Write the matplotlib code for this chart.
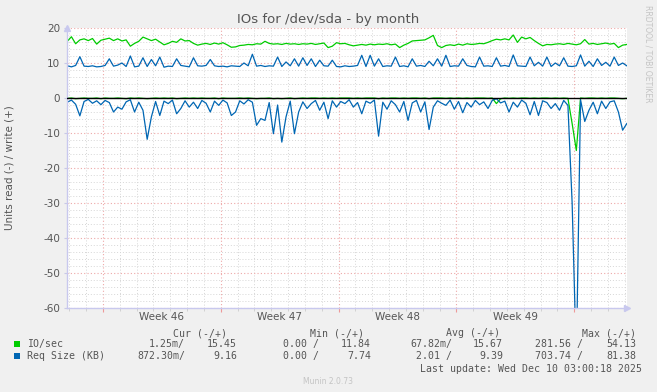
import numpy as np
import matplotlib
matplotlib.use('Agg')
import matplotlib.pyplot as plt
from matplotlib.patches import Rectangle
from matplotlib.ticker import MultipleLocator
import matplotlib.transforms as mtransforms

# samples every 6h, day 0 = Mon Nov 10 2025 (start of week 46)
start_day = -2.125
step_day = 0.25

# IO/sec, write (+)
io_write = [
    16.2, 17.5, 15.5, 16.6, 16.9, 16.4, 17.0, 15.4,
    16.5, 16.8, 17.1, 16.4, 16.9, 16.3, 16.6, 14.8,
    15.6, 16.2, 17.4, 16.9, 16.4, 16.8, 16.0, 15.2,
    15.6, 16.2, 15.9, 16.9, 16.3, 16.4, 15.6, 15.1,
    15.4, 15.6, 15.3, 15.7, 15.4, 15.8, 15.2, 14.5,
    14.6, 15.0, 15.1, 15.3, 15.2, 15.5, 15.4, 16.2,
    15.6, 15.4, 15.5, 15.3, 15.6, 15.4, 15.5, 15.3,
    15.5, 15.4, 15.6, 15.3, 15.5, 15.7, 14.4, 14.8,
    15.8, 15.5, 15.6, 15.2, 14.9, 15.1, 15.3, 15.1,
    15.4, 15.2, 15.4, 15.3, 15.5, 15.2, 15.4, 14.4,
    15.1, 15.6, 16.3, 16.4, 16.5, 16.6, 17.2, 17.9,
    15.0, 14.4, 15.0, 15.2, 15.0, 15.4, 15.1, 15.5,
    15.3, 15.4, 15.6, 15.5, 15.9, 16.4, 16.8, 16.6,
    16.9, 16.6, 18.0, 15.9, 17.4, 16.9, 17.3, 16.4,
    15.6, 14.9, 15.3, 15.2, 15.4, 15.5, 15.3, 15.6,
    15.4, 15.2, 15.5, 16.7, 15.4, 15.6, 15.3, 15.5,
    15.7, 15.4, 15.6, 14.4, 15.1, 15.3,
]

# IO/sec, read (-)
io_read = [
    0.1, 0.0, 0.2, 0.1, 0.0, 0.1, 0.1, 0.0,
    0.2, 0.0, 0.1, 0.1, 0.0, 0.1, 0.2, 0.0,
    0.1, 0.0, 0.1, 0.2, 0.1, 0.0, 0.1, 0.0,
    0.1, 0.0, 0.2, 0.1, 0.0, 0.1, 0.0, 0.1,
    0.0, 0.1, 0.1, 0.0, 0.2, 0.0, 0.1, 0.1,
    0.1, 0.0, 0.1, 0.0, 0.1, 0.2, 0.1, 0.1,
    0.0, 0.2, 0.1, 0.2, 0.1, 0.0, 0.2, 0.1,
    0.0, 0.1, 0.0, 0.0, 0.1, 0.0, 0.1, 0.0,
    0.1, 0.0, 0.0, 0.0, 0.1, 0.0, 0.1, 0.0,
    0.0, 0.0, 0.2, 0.0, 0.1, 0.0, 0.0, 0.1,
    0.0, 0.1, 0.0, 0.0, 0.1, 0.0, 0.2, 0.0,
    0.0, 0.0, 0.1, 0.0, 0.1, 0.0, 0.1, 0.0,
    0.1, 0.0, 0.0, 0.0, 0.1, 0.0, 1.6, 0.2,
    0.0, 0.1, 0.0, 0.1, 0.0, 0.0, 0.1, 0.0,
    0.1, 0.0, 0.0, 0.1, 0.0, 0.1, 0.0, 0.1,
    7.3, 15.0, 0.0, 0.1, 0.0, 0.0, 0.1, 0.0,
    0.1, 0.0, 0.0, 0.1, 0.2, 0.1,
]

# Req Size (KB), write (+)
req_write = [
    9.2, 8.9, 9.3, 11.8, 9.1, 9.0, 9.2, 8.9,
    9.0, 9.3, 11.2, 9.1, 9.4, 10.0, 9.0, 12.0,
    8.9, 9.1, 11.5, 9.0, 11.0, 9.2, 11.7, 8.8,
    9.1, 9.0, 11.2, 9.3, 9.1, 8.9, 11.5, 9.2,
    9.1, 9.3, 11.0, 9.2, 9.0, 9.1, 8.9, 9.2,
    9.1, 9.0, 10.0, 9.2, 12.5, 9.1, 9.3, 9.0,
    9.2, 9.1, 11.7, 9.0, 10.3, 9.2, 11.2, 9.1,
    11.5, 9.3, 11.2, 9.0, 10.8, 9.2, 9.1, 10.8,
    9.0, 8.9, 9.2, 9.0, 9.1, 9.3, 12.2, 9.0,
    12.2, 9.1, 11.2, 9.0, 9.2, 9.1, 11.7, 9.0,
    9.2, 8.9, 11.2, 9.1, 9.3, 9.0, 10.5, 9.2,
    11.2, 9.1, 12.2, 9.0, 9.2, 9.1, 11.2, 9.3,
    9.0, 8.9, 11.7, 9.1, 9.2, 9.0, 11.5, 9.1,
    9.3, 9.0, 12.3, 9.2, 9.1, 9.0, 11.7, 9.2,
    10.2, 9.1, 11.7, 9.0, 10.0, 9.2, 11.5, 9.1,
    9.0, 9.2, 12.3, 9.1, 10.5, 9.0, 11.2, 9.3,
    10.2, 9.1, 11.7, 9.3, 10.0, 9.2,
]

# Req Size (KB), read (-)
req_read = [
    1.2, 0.6, 1.8, 5.1, 1.0, 0.4, 1.5, 0.8,
    1.9, 0.7, 1.3, 4.0, 2.6, 3.2, 1.1, 0.5,
    4.0, 1.2, 3.5, 11.8, 5.4, 1.0, 5.0, 0.9,
    1.6, 0.6, 4.5, 3.0, 0.8, 2.6, 1.2, 3.0,
    0.7, 1.5, 4.0, 0.9, 2.1, 0.6, 1.4, 5.0,
    4.0, 0.8, 1.7, 0.5, 1.2, 7.8, 5.9, 6.4,
    1.3, 10.2, 2.0, 12.6, 5.4, 0.9, 10.2, 4.0,
    1.1, 3.0, 1.6, 0.7, 3.5, 1.2, 5.9, 0.8,
    2.6, 1.0, 1.6, 0.5, 2.6, 1.3, 4.5, 0.9,
    1.5, 0.6, 10.9, 1.2, 3.2, 0.8, 1.9, 4.0,
    1.0, 6.4, 1.4, 0.7, 4.0, 1.1, 9.0, 2.6,
    0.8, 1.5, 2.1, 0.6, 3.2, 1.0, 4.2, 1.3,
    2.6, 0.7, 1.9, 1.1, 3.0, 0.7, 0.2, 1.4,
    0.9, 4.0, 1.2, 2.6, 0.6, 1.5, 4.8, 1.0,
    5.0, 0.8, 1.3, 3.0, 1.6, 3.5, 0.7, 2.1,
    30.0, 75.0, 0.5, 6.7, 3.5, 1.2, 4.5, 0.9,
    3.0, 1.1, 0.8, 4.0, 9.2, 7.3,
]

week_labels = ['Week 46', 'Week 47', 'Week 48', 'Week 49']
week_starts = [0, 7, 14, 21, 28]

legend_names = ['IO/sec', 'Req Size (KB)']
legend_colors = ['#00cc00', '#0066b3']
headers = ['Cur (-/+)', 'Min (-/+)', 'Avg (-/+)', 'Max (-/+)']
io_stats = ['1.25m/', '15.45', '0.00 /', '11.84', '67.82m/', '15.67', '281.56 /', '54.13']
req_stats = ['872.30m/', '9.16', '0.00 /', '7.74', '2.01 /', '9.39', '703.74 /', '81.38']

W, H = 657, 392
plt.rcParams['axes.unicode_minus'] = False
plt.rcParams['font.family'] = 'DejaVu Sans'

days = start_day + step_day * np.arange(len(io_write))

fig = plt.figure(figsize=(W / 100, H / 100), dpi=100, facecolor='#f0f0f0')
ax = fig.add_axes([67 / W, 1 - 308 / H, (627 - 67) / W, 280 / H])
ax.set_facecolor('white')

ax.plot(days, io_write, color=legend_colors[0], lw=0.9)
ax.plot(days, -np.array(io_read), color=legend_colors[0], lw=0.9)
ax.plot(days, req_write, color=legend_colors[1], lw=0.9)
ax.plot(days, -np.array(req_read), color=legend_colors[1], lw=0.9)
ax.axhline(0, color='black', lw=1.0, zorder=5)

ax.set_xlim(-2.139, 31.135)
ax.set_ylim(-60, 20)

ax.set_xticks(week_starts)
ax.xaxis.set_minor_locator(MultipleLocator(1))
ax.yaxis.set_major_locator(MultipleLocator(10))
ax.yaxis.set_minor_locator(MultipleLocator(2))
ax.grid(which='minor', color='#d6d6d6', linestyle=(0, (1, 2)), lw=0.7)
ax.grid(which='major', color='#eea8a8', linestyle=(0, (1, 2)), lw=0.8)
ax.set_axisbelow(True)

ax.tick_params(axis='x', which='both', labelbottom=False, direction='out')
ax.tick_params(axis='x', which='major', length=3, color='#ee9999')
ax.tick_params(axis='x', which='minor', length=2, color='#cccccc')
ax.tick_params(axis='y', which='major', length=2, color='#c8c8e8', labelsize=7.5,
               labelcolor='#555555', pad=3)
ax.tick_params(axis='y', which='minor', length=0)

for s in ['top', 'right']:
    ax.spines[s].set_visible(False)
for s in ['left', 'bottom']:
    ax.spines[s].set_color('#c8c8ee')
    ax.spines[s].set_linewidth(1.0)
ax.plot(1.0, 0, '>', transform=ax.transAxes, clip_on=False, color='#c8c8ee', ms=4)
ax.plot(0, 1.0, '^', transform=ax.transAxes, clip_on=False, color='#c8c8ee', ms=4)

trans = mtransforms.blended_transform_factory(ax.transData, fig.transFigure)
for k, lab in enumerate(week_labels):
    ax.text(week_starts[k] + 3.5, 1 - 317 / H, lab, transform=trans, ha='center', va='center',
            fontsize=7.5, color='#555555')

def fx(px):
    return px / W

def fy(py):
    return 1 - py / H

fig.text(fx(328), fy(19), 'IOs for /dev/sda - by month', ha='center', va='center',
         fontsize=9.5, color='#555555')
fig.text(fx(10), fy(168), 'Units read (-) / write (+)', rotation=90, ha='center', va='center',
         fontsize=7.5, color='#555555')
fig.text(fx(648), fy(5), 'RRDTOOL / TOBI OETIKER', rotation=270, ha='center', va='top',
         fontsize=5.5, color='#c4c4c4')

mono = dict(family='DejaVu Sans Mono', fontsize=7.1, color='#555555', va='center')
header_right = [227, 364, 500, 636]
for h, xr in zip(headers, header_right):
    fig.text(fx(xr), fy(333), h, ha='right', **mono)

col_right = [185, 237, 319, 371, 452, 503, 583, 636]
for row_y, name, color, stats in [(344, legend_names[0], legend_colors[0], io_stats),
                                  (356, legend_names[1], legend_colors[1], req_stats)]:
    fig.add_artist(Rectangle((fx(14), fy(row_y + 3)), 6 / W, 6 / H, transform=fig.transFigure,
                             facecolor=color, edgecolor='none'))
    fig.text(fx(27), fy(row_y), name, ha='left', **mono)
    for val, xr in zip(stats, col_right):
        fig.text(fx(xr), fy(row_y), val, ha='right', **mono)

fig.text(fx(642), fy(369), 'Last update: Wed Dec 10 03:00:18 2025', ha='right', **mono)
fig.text(fx(328), fy(381), 'Munin 2.0.73', ha='center', va='center', fontsize=5.5, color='#c4c4c4')

fig.savefig('out.png', dpi=100, facecolor=fig.get_facecolor())
